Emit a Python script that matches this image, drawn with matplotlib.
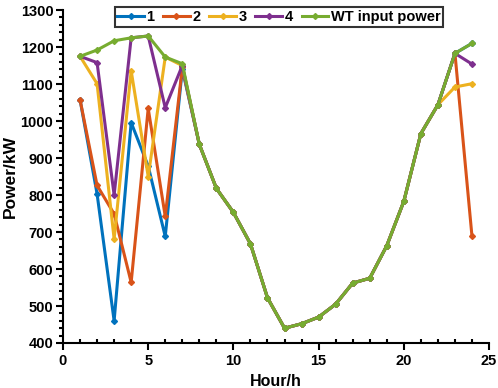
import matplotlib
matplotlib.use("Agg")
import matplotlib.pyplot as plt
from matplotlib.ticker import MultipleLocator

hours = list(range(1, 25))
wt = [1175, 1192, 1217, 1225, 1230, 1173, 1155, 937, 818, 753, 668, 522,
      440, 452, 470, 505, 562, 575, 663, 783, 966, 1044, 1183, 1210]
s1 = [1058, 803, 460, 996, 878, 688, 1140] + wt[7:]
s2 = [1058, 826, 749, 564, 1034, 742, 1145] + wt[7:23] + [688]
s3 = [1175, 1101, 681, 1136, 850, 1173, 1150] + wt[7:22] + [1092, 1101]
s4 = [1175, 1158, 800, 1225, 1230, 1036, 1150] + wt[7:23] + [1154]

labels = ["1", "2", "3", "4", "WT input power"]
colors = ["#0072BD", "#D95319", "#EDB120", "#7E2F8E", "#77AC30"]

plt.rcParams['font.family'] = ['Liberation Sans', 'DejaVu Sans']
plt.rcParams['font.weight'] = 'bold'

fig = plt.figure(figsize=(4.98, 3.88), dpi=100)
ax = fig.add_axes([0.1265, 0.116, 0.8555, 0.858])

for data, lab, c in zip([s1, s2, s3, s4, wt], labels, colors):
    ax.plot(hours, data, color=c, lw=2.2, marker='D', ms=3, label=lab)

ax.set_xlim(0, 25)
ax.set_ylim(400, 1300)
ax.xaxis.set_major_locator(MultipleLocator(5))
ax.xaxis.set_minor_locator(MultipleLocator(1))
ax.yaxis.set_major_locator(MultipleLocator(100))
ax.yaxis.set_minor_locator(MultipleLocator(20))
ax.tick_params(axis='both', which='major', direction='out', length=5, width=1.5, labelsize=10.5)
ax.tick_params(axis='x', which='major', pad=3)
ax.tick_params(axis='y', which='major', pad=2)
ax.tick_params(axis='x', which='minor', direction='in', length=3, width=1.5)
ax.tick_params(axis='y', which='minor', direction='out', length=3, width=1.5)
for lbl in ax.get_xticklabels() + ax.get_yticklabels():
    lbl.set_fontweight('bold')
ax.spines['top'].set_visible(False)
ax.spines['right'].set_visible(False)
ax.spines['left'].set_linewidth(1.5)
ax.spines['bottom'].set_linewidth(1.5)

ax.set_xlabel("Hour/h", fontsize=11.5, fontweight='bold', labelpad=4)
ax.set_ylabel("Power/kW", fontsize=12.5, fontweight='bold', labelpad=2)

leg = ax.legend(loc='upper center', bbox_to_anchor=(0.507, 1.01), ncol=5, frameon=True,
                fancybox=False, edgecolor='black', handlelength=1.8, handletextpad=0.2,
                columnspacing=0.6, borderpad=0.2, borderaxespad=0,
                prop={'weight': 'bold', 'size': 10.5})
leg.get_frame().set_linewidth(1.5)

fig.savefig("out.png", dpi=100)
